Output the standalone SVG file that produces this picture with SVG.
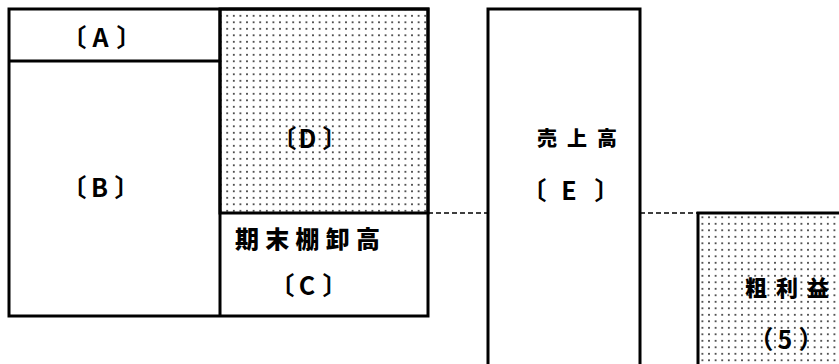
<svg xmlns="http://www.w3.org/2000/svg" width="839" height="364" viewBox="0 0 839 364">
<defs>
<pattern id="dots" width="6.6" height="6.5" patternUnits="userSpaceOnUse">
<rect x="2" y="2" width="1.6" height="1.6" fill="#111"/>
</pattern>
</defs>
<style>
.box{fill:#fff;stroke:#000;stroke-width:3}
.dot{fill:url(#dots);stroke:#000;stroke-width:3}
.ln{stroke:#000;stroke-width:3;fill:none}
.dash{stroke:#000;stroke-width:1.5;stroke-dasharray:5 3;fill:none}
text{font-family:"Noto Sans CJK JP","Noto Sans",sans-serif;font-weight:900;fill:#000;dominant-baseline:central}
.lab{font-size:25px;text-anchor:middle;font-weight:bold}
</style>
<rect width="839" height="364" fill="#fff"/>
<g id="connectors">
<line class="dash" x1="428" y1="213" x2="488" y2="213"/>
<line class="dash" x1="640" y1="213" x2="698" y2="213"/>
</g>
<g id="left-block">
<rect class="box" x="9" y="9" width="419" height="307"/>
</g>
<g id="D">
<rect class="dot" x="220" y="9" width="208" height="204"/>
<text class="lab" y="137"><tspan x="284">〔</tspan><tspan x="307.5">D</tspan><tspan x="335">〕</tspan></text>
</g>
<g id="A">
<line class="ln" x1="9" y1="61" x2="220" y2="61"/>
<text class="lab" y="36"><tspan x="74">〔</tspan><tspan x="100.5">A</tspan><tspan x="129">〕</tspan></text>
</g>
<g id="B">
<line class="ln" x1="220" y1="9" x2="220" y2="316"/>
<text class="lab" y="186"><tspan x="74">〔</tspan><tspan x="99.5">B</tspan><tspan x="127">〕</tspan></text>
</g>
<g id="C">
<text x="235" y="237" font-size="24" textLength="145" lengthAdjust="spacing">期末棚卸高</text>
<text class="lab" y="284"><tspan x="282">〔</tspan><tspan x="307">C</tspan><tspan x="335">〕</tspan></text>
</g>
<g id="E">
<rect class="box" x="488" y="9" width="152" height="370"/>
<text x="537" y="137" font-size="20" textLength="80" lengthAdjust="spacing">売上高</text>
<text class="lab" y="189"><tspan x="534">〔</tspan><tspan x="569">E</tspan><tspan x="607">〕</tspan></text>
</g>
<g id="profit">
<rect class="dot" x="698" y="213" width="160" height="170"/>
<text x="745" y="286" font-size="22" textLength="84" lengthAdjust="spacing">粗利益</text>
<text class="lab" y="338"><tspan x="761">（</tspan><tspan x="785">5</tspan><tspan x="811">）</tspan></text>
</g>
</svg>
